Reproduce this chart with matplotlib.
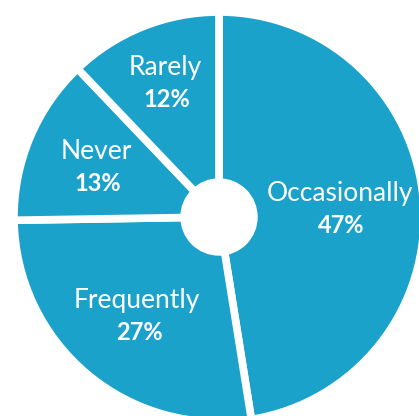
import matplotlib.pyplot as plt
from matplotlib.patches import Circle
import numpy as np

labels = ["Occasionally", "Frequently", "Never", "Rarely"]
shares = [47, 27, 13, 12]
# how far out (fraction of radius) each label sits along its wedge
label_dist = [0.59, 0.62, 0.65, 0.71]

blue = "#1ba2cb"
cx, cy, R = 219, 199, 205

fig = plt.figure(figsize=(4.19, 4.16), dpi=100)
ax = fig.add_axes([0, 0, 1, 1])

wedges, _ = ax.pie(shares, colors=[blue] * len(shares), startangle=90,
                   counterclock=False, center=(cx, cy), radius=R,
                   wedgeprops=dict(edgecolor="white", linewidth=5.5))
ax.add_patch(Circle((cx, cy), 38, color="white", zorder=5))

# pie() resets the limits, so set them afterwards (1 unit = 1 pixel)
ax.set_xlim(0, 419)
ax.set_ylim(0, 416)
ax.set_aspect("equal")
ax.axis("off")

for w, name, val, d in zip(wedges, labels, shares, label_dist):
    ang = np.deg2rad((w.theta1 + w.theta2) / 2)
    x = cx + d * R * np.cos(ang)
    y = cy + d * R * np.sin(ang)
    ax.text(x, y + 14, name, color="white", fontsize=19, family="Lato",
            ha="center", va="center")
    ax.text(x + 2, y - 18, f"{val}%", color="white", fontsize=17,
            family="Lato", fontweight="bold", ha="center", va="center")

fig.savefig("out.png", dpi=100)
